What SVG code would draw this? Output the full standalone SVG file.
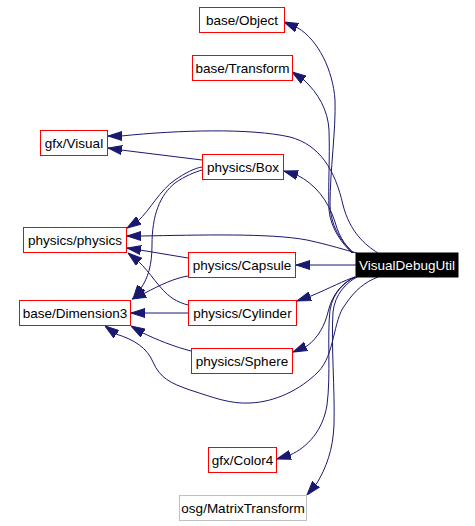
<svg xmlns="http://www.w3.org/2000/svg" width="475" height="526" viewBox="0 0 475 526">
<style>
.n rect{fill:#fff;stroke:#ff0000;stroke-width:1}
.n text{font-family:"Liberation Sans",Arial,sans-serif;font-size:13.5px;fill:#000;text-anchor:middle}
#VisualDebugUtil rect{fill:#000;stroke:#000}
#VisualDebugUtil text{fill:#fff}
#MatrixTransform rect{stroke:#bfbfbf}
.e path{fill:none;stroke:#191970;stroke-width:1;marker-start:url(#ah)}
</style>
<defs>
<marker id="ah" markerUnits="userSpaceOnUse" markerWidth="14" markerHeight="10" viewBox="0 0 14 10" refX="14" refY="5" orient="auto-start-reverse">
<path d="M0,0.5 L14,5 L0,9.5 z" fill="#191970" stroke="#191970"/>
</marker>
</defs>
<rect width="475" height="526" fill="#fff"/>
<g id="edges" class="e">
<path d="M284,22 L298,28 C318,40 333,70 335,100 C336,130 330,170 330,205 C331,230 345,245 353,253"/>
<path d="M292,72 L304,80 C318,93 328,110 329,130 C330,160 328,185 329,210 C331,230 343,244 352,253"/>
<path d="M108,136 L121,136 C180,130 250,128 290,137 C320,145 335,170 343,205 C350,232 365,245 378,253"/>
<path d="M108,148 L121,150 L202,160"/>
<path d="M284,171 L297,175 C315,184 328,200 335,222 C340,240 348,248 354,253"/>
<path d="M127,228 L138,221 C150,210 160,190 175,180 C185,173 195,168 202,167"/>
<path d="M133,299 L141,288 C148,278 152,265 152,245 C152,215 160,195 175,183 C185,176 195,172 202,170"/>
<path d="M127,236 L141,236 C200,235 270,233 307,240 C330,245 345,250 357,253"/>
<path d="M127,248 L140,250 L188,258"/>
<path d="M128,253 L138,261 C150,272 160,290 172,298 C178,302 184,304 188,305"/>
<path d="M132,299 L145,293 C160,285 175,278 188,276"/>
<path d="M296,265 L309,265 L356,265"/>
<path d="M297,301 L311,296 C330,288 345,280 355,277"/>
<path d="M131,313 L144,313 L188,313"/>
<path d="M131,326 L143,333 C155,339 175,347 191,351"/>
<path d="M105,326 L116,334 C135,340 147,348 153,362 C160,378 170,383 190,390 C215,398 230,404 250,403 C275,402 300,390 318,372 C335,355 333,320 345,305 C355,290 365,282 378,277"/>
<path d="M293,352 L307,346 C318,338 325,325 328,312 C332,295 342,282 356,277"/>
<path d="M277,459 L290,455 C308,447 323,430 327,405 C331,375 327,335 330,310 C333,292 345,282 355,277"/>
<path d="M307,495 L317,483 C326,468 333,450 334,425 C335,390 331,345 333,312 C335,294 346,283 357,277"/>
</g>
<g id="Object" class="n"><rect x="199.5" y="7.5" width="85" height="25"/><text x="242" y="25">base/Object</text></g>
<g id="Transform" class="n"><rect x="192.5" y="55.5" width="100" height="25"/><text x="242.5" y="73">base/Transform</text></g>
<g id="Visual" class="n"><rect x="40.5" y="130.5" width="67" height="25"/><text x="74" y="148">gfx/Visual</text></g>
<g id="Box" class="n"><rect x="202.5" y="154.5" width="81" height="25"/><text x="243" y="172">physics/Box</text></g>
<g id="physics" class="n"><rect x="23.5" y="227.5" width="103" height="25"/><text x="75" y="245">physics/physics</text></g>
<g id="Capsule" class="n"><rect x="188.5" y="252.5" width="107" height="25"/><text x="242" y="270">physics/Capsule</text></g>
<g id="VisualDebugUtil" class="n"><rect x="356" y="253" width="102" height="24"/><text x="407" y="270">VisualDebugUtil</text></g>
<g id="Dimension3" class="n"><rect x="19.5" y="300.5" width="111" height="25"/><text x="75" y="318">base/Dimension3</text></g>
<g id="Cylinder" class="n"><rect x="188.5" y="300.5" width="108" height="25"/><text x="242.5" y="318">physics/Cylinder</text></g>
<g id="Sphere" class="n"><rect x="191.5" y="348.5" width="101" height="25"/><text x="242" y="366">physics/Sphere</text></g>
<g id="Color4" class="n"><rect x="208.5" y="447.5" width="68" height="25"/><text x="242.5" y="465">gfx/Color4</text></g>
<g id="MatrixTransform" class="n"><rect x="179.5" y="495.5" width="127" height="25"/><text x="243" y="513">osg/MatrixTransform</text></g>
</svg>
